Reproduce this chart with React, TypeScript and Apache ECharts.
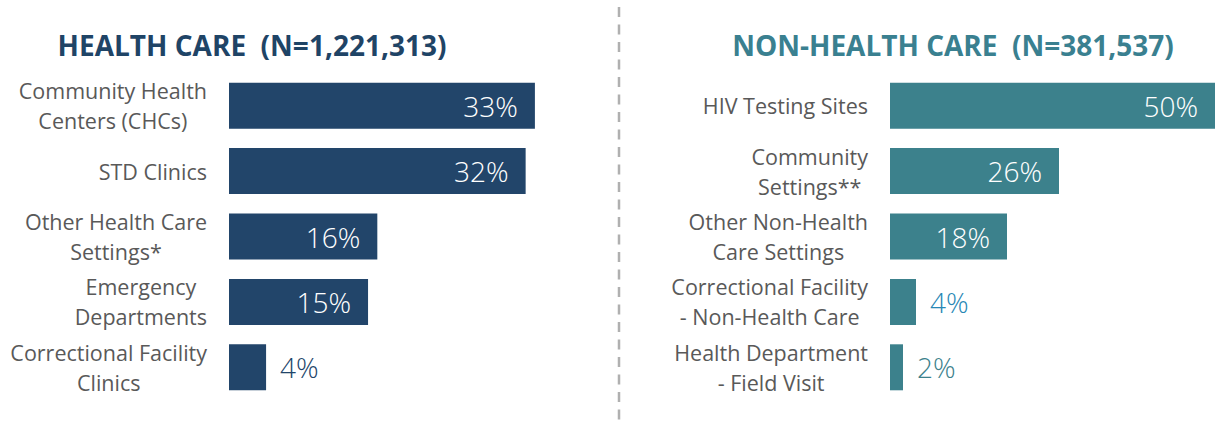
import React, { useEffect, useRef } from "react";
import * as echarts from "echarts";

const leftTitle = "HEALTH CARE  (N=1,221,313)";
const rightTitle = "NON-HEALTH CARE  (N=381,537)";

const leftCategories = [
  "Community Health\nCenters (CHCs)",
  "STD Clinics",
  "Other Health Care\nSettings*",
  "Emergency\nDepartments",
  "Correctional Facility\nClinics",
];
const leftValues = [33, 32, 16, 15, 4];

const rightCategories = [
  "HIV Testing Sites",
  "Community\nSettings**",
  "Other Non-Health\nCare Settings",
  "Correctional Facility\n- Non-Health Care",
  "Health Department\n- Field Visit",
];
const rightValues = [50, 26, 18, 4, 2];

const NAVY = "#22456A";
const TEAL = "#3C818C";
const GRAY = "#595959";
const FONT = "'Segoe UI', 'Open Sans', sans-serif";

function richLabel(v: string) {
  return v
    .split("\n")
    .map((l) => "{c|" + l + "}")
    .join("\n");
}

function buildData(values: number[], barColor: string, outColors: string[]) {
  return values.map((v, i) => ({
    value: v,
    itemStyle: { color: barColor },
    label:
      v > 10
        ? { position: "insideRight", distance: 17, color: "#ffffff" }
        : { position: "right", distance: 14, color: outColors[i] || barColor },
  }));
}

export default function App() {
  const ref = useRef<HTMLDivElement>(null);
  useEffect(() => {
    if (!ref.current) return;
    const chart = echarts.init(ref.current, undefined, { renderer: "svg" });
    const yAxisCommon = {
      type: "category",
      inverse: true,
      axisLine: { show: false },
      axisTick: { show: false },
      splitLine: { show: false },
      axisLabel: {
        margin: 22,
        color: GRAY,
        fontSize: 21.5,
        fontFamily: FONT,
        lineHeight: 30,
        formatter: richLabel,
        rich: { c: { align: "center", color: GRAY, fontSize: 21.5, fontFamily: FONT, lineHeight: 30 } },
      },
    };
    const xAxisCommon = {
      type: "value",
      min: 0,
      show: false,
      splitLine: { show: false },
    };
    const labelCommon = {
      show: true,
      formatter: "{c}%",
      fontSize: 28,
      fontWeight: 350,
      fontFamily: FONT,
    };
    chart.setOption({
      animation: false,
      grid: [
        { left: 229, top: 73, width: 9.27 * 35, height: 327 },
        { left: 890, top: 73, width: 6.57 * 50, height: 327 },
      ],
      xAxis: [
        { ...xAxisCommon, gridIndex: 0, max: 35 },
        { ...xAxisCommon, gridIndex: 1, max: 50 },
      ],
      yAxis: [
        { ...yAxisCommon, gridIndex: 0, data: leftCategories },
        { ...yAxisCommon, gridIndex: 1, data: rightCategories },
      ],
      series: [
        {
          type: "bar",
          xAxisIndex: 0,
          yAxisIndex: 0,
          barWidth: 46,
          clip: false,
          label: labelCommon,
          data: buildData(leftValues, NAVY, [NAVY, NAVY, NAVY, NAVY, NAVY]),
        },
        {
          type: "bar",
          xAxisIndex: 1,
          yAxisIndex: 1,
          barWidth: 46,
          clip: false,
          label: labelCommon,
          data: buildData(rightValues, TEAL, [TEAL, TEAL, TEAL, "#2787B5", TEAL]),
        },
      ],
      graphic: [
        {
          type: "text",
          x: 252,
          y: 45,
          style: {
            text: leftTitle,
            fill: "#1F4466",
            font: "bold 28px " + FONT,
            textAlign: "center",
            textVerticalAlign: "middle",
          },
        },
        {
          type: "text",
          x: 953,
          y: 45,
          style: {
            text: rightTitle,
            fill: "#3A8090",
            font: "bold 28px " + FONT,
            textAlign: "center",
            textVerticalAlign: "middle",
          },
        },
        {
          type: "line",
          shape: { x1: 619, y1: 7, x2: 619, y2: 422 },
          style: { stroke: "#B0B0B0", lineWidth: 2.5, lineDash: [10, 7.5] },
        },
      ],
    });
    return () => chart.dispose();
  }, []);
  return (
    <div
      ref={ref}
      style={{ position: "fixed", left: 0, top: 0, width: 1215, height: 426, background: "#fff" }}
    />
  );
}
